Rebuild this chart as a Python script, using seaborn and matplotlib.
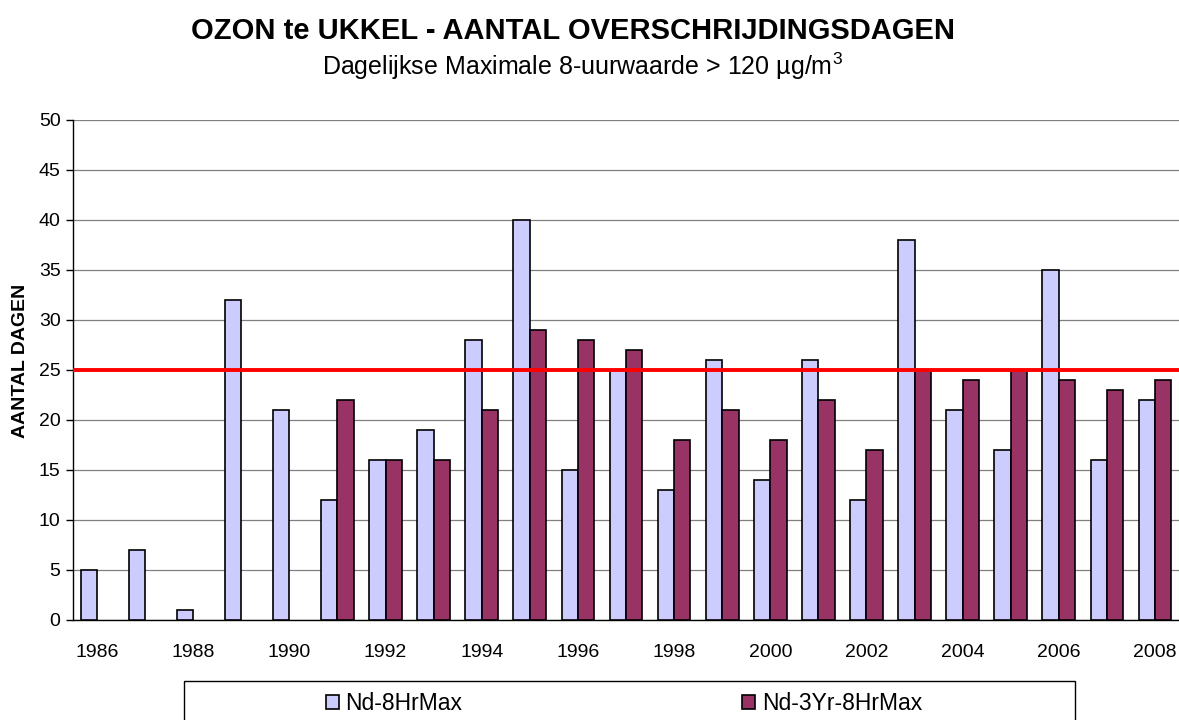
import pandas as pd
import numpy as np
import matplotlib
matplotlib.use('Agg')
import matplotlib.pyplot as plt
from matplotlib.patches import Rectangle
import seaborn as sns

# Data
jaren = list(range(1986, 2009))
nd_8hrmax = [5, 7, 1, 32, 21, 12, 16, 19, 28, 40, 15, 25, 13, 26, 14, 26, 12, 38, 21, 17, 35, 16, 22]
nd_3yr_8hrmax = [np.nan, np.nan, np.nan, np.nan, np.nan, 22, 16, 16, 21, 29, 28, 27, 18, 21, 18, 22, 17, 25, 24, 25, 24, 23, 24]
norm = 25

series_names = ['Nd-8HrMax', 'Nd-3Yr-8HrMax']
kleuren = ['#CCCCFF', '#993366']

df = pd.DataFrame({'Jaar': jaren, series_names[0]: nd_8hrmax, series_names[1]: nd_3yr_8hrmax})
long_df = df.melt(id_vars='Jaar', var_name='Reeks', value_name='Dagen').dropna()
long_df['Jaar'] = long_df['Jaar'].astype(str)

sns.set_style('white')
plt.rcParams['font.family'] = ['Liberation Sans', 'DejaVu Sans']
plt.rcParams['text.color'] = 'black'
plt.rcParams['axes.labelcolor'] = 'black'
plt.rcParams['xtick.color'] = 'black'
plt.rcParams['ytick.color'] = 'black'

W, H = 1179, 720
fig = plt.figure(figsize=(W / 100, H / 100), dpi=100)
ax = fig.add_axes([73 / W, 1 - 620 / H, 1 - 73 / W, 500 / H])

sns.barplot(data=long_df, x='Jaar', y='Dagen', hue='Reeks',
            order=[str(j) for j in jaren], hue_order=series_names,
            palette=kleuren, saturation=1, width=0.68, edgecolor='black',
            linewidth=1.2, errorbar=None, ax=ax, zorder=3)

# grenswaarde
ax.axhline(norm, color='#FF0000', linewidth=2.8, zorder=4)

ax.set_ylim(0, 50)
ax.set_xlim(-0.5, len(jaren) - 0.5)
ax.set_yticks(range(0, 51, 5))
ax.yaxis.grid(True, color='#808080', linewidth=0.9, zorder=0)
ax.xaxis.grid(False)
ax.set_axisbelow(True)

# labels om de twee jaar, tick marks tussen de categorieen
ax.set_xticks(range(0, len(jaren), 2))
ax.set_xticklabels([str(j) for j in jaren[::2]])
ax.set_xticks(np.arange(-0.5, len(jaren), 1), minor=True)
ax.tick_params(axis='x', which='major', length=0, labelsize=14, pad=17)
ax.tick_params(axis='x', which='minor', length=5, width=1, color='black', direction='out')
ax.tick_params(axis='y', length=5, width=1, color='black', direction='out',
               labelsize=14, left=True, pad=4)

for s in ['top', 'right']:
    ax.spines[s].set_visible(False)
for s in ['left', 'bottom']:
    ax.spines[s].set_color('black')
    ax.spines[s].set_linewidth(1)

ax.set_xlabel('')
ax.set_ylabel('AANTAL DAGEN', fontsize=14, fontweight='bold')
ax.yaxis.set_label_coords((29 - 73) / (W - 73), (620 - 361) / 500)

fig.text(573 / W, 1 - 31 / H, 'OZON te UKKEL - AANTAL OVERSCHRIJDINGSDAGEN',
         ha='center', va='center', fontsize=21, fontweight='bold')
fig.text(582 / W, 1 - 66 / H, 'Dagelijkse Maximale 8-uurwaarde > 120 µg/m$^\\mathregular{3}$',
         ha='center', va='center', fontsize=18)

# legenda met kader
handles, labels = ax.get_legend_handles_labels()
ax.legend_.remove()
fig.patches.append(Rectangle((184 / W, -0.01), (1075 - 184) / W, 1 - 681 / H + 0.01,
                             transform=fig.transFigure, facecolor='white',
                             edgecolor='black', linewidth=1))
leg = fig.legend(handles, labels, loc='center', ncol=2,
                 bbox_to_anchor=(624 / W, 1 - 704 / H),
                 frameon=False, fontsize=16.5, handlelength=0.55,
                 handleheight=0.55, handletextpad=0.3, columnspacing=12.2)

plt.savefig('out.png', dpi=100)
plt.close()
